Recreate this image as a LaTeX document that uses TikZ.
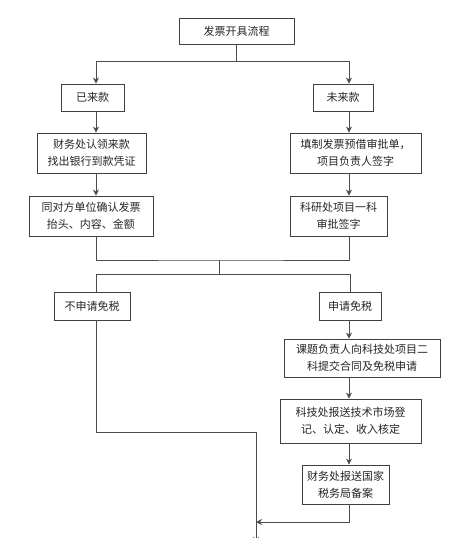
\documentclass[tikz,border=0pt]{standalone}
\usepackage{fontspec}
\setmainfont{Noto Sans CJK SC}
\usetikzlibrary{arrows.meta}
\tikzset{
  box/.style={draw=black!75, line width=0.9pt, fill=white, align=center, inner sep=2pt,
    font=\fontsize{11pt}{17pt}\selectfont, text=black!85},
  conn/.style={draw=black!70, line width=0.9pt},
  arr/.style={conn, -{Stealth[length=6pt,width=6pt]}}
}
\begin{document}
\begin{tikzpicture}[x=1pt,y=-1pt]
\clip (0,0) rectangle (475,538);
\fill[white] (0,0) rectangle (475,538);
% coordinates for branch lines
\coordinate (L) at (96,61);
\coordinate (R) at (349,61);
\coordinate (J1) at (219,260);
\coordinate (J2) at (219,274);
\coordinate (L2) at (96,274);
\coordinate (R2) at (350,274);
\coordinate (M) at (256,432);
\coordinate (E) at (256,543);
% nodes
\node[box, minimum width=115, minimum height=26] (title) at (236.5,31) {发票开具流程};
\node[box, minimum width=63, minimum height=27] (yilai) at (92.5,97.5) {已来款};
\node[box, minimum width=60, minimum height=27] (weilai) at (343,97.5) {未来款};
\node[box, minimum width=109, minimum height=40] (caiwu) at (91.5,153) {财务处认领来款\\找出银行到款凭证};
\node[box, minimum width=131, minimum height=40] (tianzhi) at (355.5,153) {填制发票预借审批单，\\项目负责人签字};
\node[box, minimum width=124, minimum height=40] (tongdui) at (91,216) {同对方单位确认发票\\抬头、内容、金额};
\node[box, minimum width=97, minimum height=40] (keyan) at (338.5,216) {科研处项目一科\\审批签字};
\node[box, minimum width=76, minimum height=28] (bushen) at (92,306) {不申请免税};
\node[box, minimum width=62, minimum height=28] (shen) at (350,306) {申请免税};
\node[box, minimum width=156, minimum height=38] (keti) at (362,358) {课题负责人向科技处项目二\\科提交合同及免税申请};
\node[box, minimum width=141, minimum height=44] (kejichu) at (350.5,421) {科技处报送技术市场登\\记、认定、收入核定};
\node[box, minimum width=87, minimum height=39] (caiwubs) at (345.5,484.5) {财务处报送国家\\税务局备案};
% connectors
\draw[conn] (title.south) -- (title.south |- L);
\draw[conn] (L) -- (R);
\draw[arr] (L) -- (L |- yilai.north);
\draw[arr] (R) -- (R |- weilai.north);
\draw[arr] (yilai.south -| L) -- (caiwu.north -| L);
\draw[arr] (weilai.south -| R) -- (tianzhi.north -| R);
\draw[arr] (caiwu.south -| L) -- (tongdui.north -| L);
\draw[arr] (tianzhi.south -| R) -- (keyan.north -| R);
\draw[conn] (tongdui.south -| L) |- (J1) -| (keyan.south -| R);
\draw[conn] (J1) -- (J2);
\draw[conn] (L2) -- (R2);
\draw[conn] (L2) -- (bushen.north -| L2);
\draw[conn] (R2) -- (shen.north -| R2);
\draw[arr] (shen.south -| R) -- (keti.north -| R);
\draw[arr] (keti.south -| R) -- (kejichu.north -| R);
\draw[arr] (kejichu.south -| R) -- (caiwubs.north -| R);
\draw[conn] (bushen.south -| L) |- (M);
\draw[arr] (M) -- (E);
\draw[arr] (caiwubs.south -| R) |- (M |- 0,522);
\end{tikzpicture}
\end{document}
